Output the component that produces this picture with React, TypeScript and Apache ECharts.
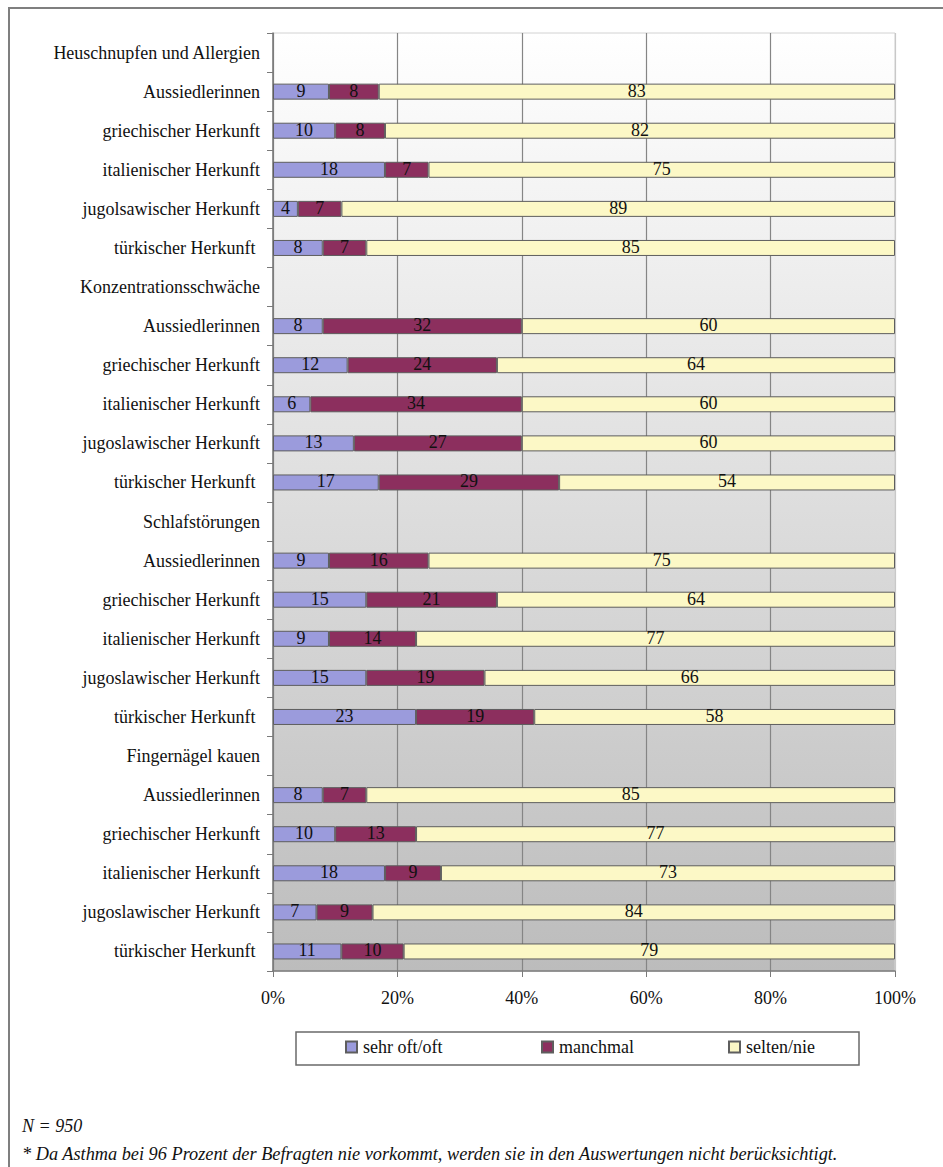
import React, { useEffect, useRef } from "react";
import * as echarts from "echarts";

// Row labels, top to bottom: a group heading followed by five origin groups
const rowLabels = [
  "Heuschnupfen und Allergien",
  "Aussiedlerinnen",
  "griechischer Herkunft",
  "italienischer Herkunft",
  "jugolsawischer Herkunft",
  "türkischer Herkunft ",
  "Konzentrationsschwäche",
  "Aussiedlerinnen",
  "griechischer Herkunft",
  "italienischer Herkunft",
  "jugoslawischer Herkunft",
  "türkischer Herkunft ",
  "Schlafstörungen",
  "Aussiedlerinnen",
  "griechischer Herkunft",
  "italienischer Herkunft",
  "jugoslawischer Herkunft",
  "türkischer Herkunft ",
  "Fingernägel kauen",
  "Aussiedlerinnen",
  "griechischer Herkunft",
  "italienischer Herkunft",
  "jugoslawischer Herkunft",
  "türkischer Herkunft ",
];

// Percentages per row; "-" marks heading rows without a bar
const sehrOftOft = ["-", 9, 10, 18, 4, 8, "-", 8, 12, 6, 13, 17, "-", 9, 15, 9, 15, 23, "-", 8, 10, 18, 7, 11];
const manchmal = ["-", 8, 8, 7, 7, 7, "-", 32, 24, 34, 27, 29, "-", 16, 21, 14, 19, 19, "-", 7, 13, 9, 9, 10];
const seltenNie = ["-", 83, 82, 75, 89, 85, "-", 60, 64, 60, 60, 54, "-", 75, 64, 77, 66, 58, "-", 85, 77, 73, 84, 79];

const seriesNames = ["sehr oft/oft", "manchmal", "selten/nie"];
const seriesColors = ["#9b9bdc", "#8c2f5e", "#fcf8c6"];

const FONT = "Liberation Serif";

export default function App() {
  const ref = useRef<HTMLDivElement>(null);

  useEffect(() => {
    if (!ref.current) return;
    const chart = echarts.init(ref.current, null, { renderer: "svg" });

    const values = [sehrOftOft, manchmal, seltenNie];
    const legendLeft = [345, 541, 728];

    const option: any = {
      animation: false,
      backgroundColor: "#ffffff",
      textStyle: { fontFamily: FONT },
      grid: {
        left: 273,
        top: 33,
        width: 622,
        height: 938,
        show: true,
        borderColor: "#d2d2d2",
        borderWidth: 1,
        backgroundColor: {
          type: "linear",
          x: 0,
          y: 0,
          x2: 0,
          y2: 1,
          colorStops: [
            { offset: 0, color: "#ffffff" },
            { offset: 1, color: "#bcbcbc" },
          ],
        },
      },
      xAxis: {
        type: "value",
        min: 0,
        max: 100,
        interval: 20,
        axisLine: { show: true, lineStyle: { color: "#7a7a7a", width: 1.5 } },
        axisTick: { show: true, length: 6, lineStyle: { color: "#7a7a7a" } },
        axisLabel: {
          formatter: "{value}%",
          fontFamily: FONT,
          fontSize: 18,
          color: "#111",
          margin: 18,
        },
        splitLine: {
          show: true,
          lineStyle: {
            color: ["#858585", "#858585", "#858585", "#858585", "#858585", "#c8c8c8"],
            width: 1.2,
          },
        },
      },
      yAxis: {
        type: "category",
        inverse: true,
        data: rowLabels,
        axisLine: { show: true, lineStyle: { color: "#7a7a7a", width: 1.5 } },
        axisTick: { show: true, length: 6, lineStyle: { color: "#7a7a7a" } },
        axisLabel: {
          fontFamily: FONT,
          fontSize: 18,
          color: "#111",
          margin: 13,
        },
      },
      legend: seriesNames.map((name, i) => ({
        data: [name],
        left: legendLeft[i],
        top: 1038,
        padding: 0,
        icon: "rect",
        itemWidth: 11,
        itemHeight: 11,
        itemGap: 0,
        selectedMode: false,
        textStyle: { fontFamily: FONT, fontSize: 18, color: "#111", padding: [0, 0, 0, 1] },
      })),
      graphic: [
        {
          type: "rect",
          z: -1,
          shape: { x: 9, y: 8, width: 960, height: 1200 },
          style: { fill: "none", stroke: "#7f7f7f", lineWidth: 2 },
        },
        {
          type: "rect",
          z: 0,
          shape: { x: 296, y: 1032, width: 563, height: 33 },
          style: { fill: "#ffffff", stroke: "#6a6a6a", lineWidth: 1.5 },
        },
        {
          type: "text",
          x: 22,
          y: 1126,
          style: {
            text: "N = 950",
            fontFamily: FONT,
            fontStyle: "italic",
            fontSize: 18,
            fill: "#111",
            verticalAlign: "middle",
          },
        },
        {
          type: "text",
          x: 22,
          y: 1154,
          style: {
            text: "* Da Asthma bei 96 Prozent der Befragten nie vorkommt, werden sie in den Auswertungen nicht berücksichtigt.",
            fontFamily: FONT,
            fontStyle: "italic",
            fontSize: 18.3,
            fill: "#111",
            verticalAlign: "middle",
          },
        },
      ],
      series: seriesNames.map((name, i) => ({
        name,
        type: "bar",
        stack: "total",
        barWidth: 16,
        data: values[i],
        itemStyle: { color: seriesColors[i], borderColor: "#5e5e5e", borderWidth: 1 },
        label: {
          show: true,
          position: "inside",
          fontFamily: FONT,
          fontSize: 18,
          color: "#111",
          offset: [0, -1],
        },
      })),
    };

    chart.setOption(option);
    return () => chart.dispose();
  }, []);

  return (
    <div
      ref={ref}
      style={{ position: "absolute", left: 0, top: 0, width: 943, height: 1167 }}
    />
  );
}
